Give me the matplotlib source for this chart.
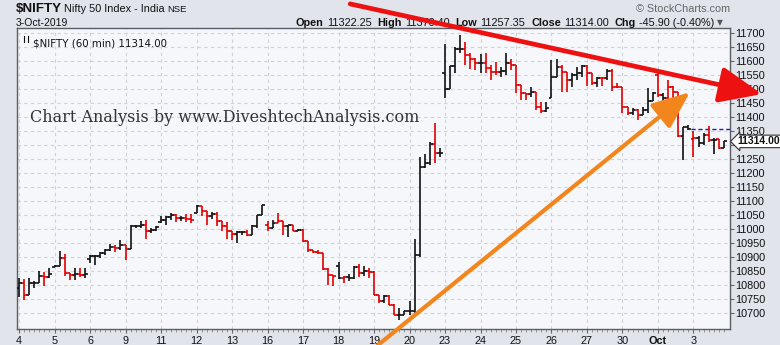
import matplotlib
matplotlib.use("Agg")
import matplotlib.pyplot as plt
import numpy as np
from matplotlib.patches import FancyArrowPatch, ArrowStyle
from matplotlib.lines import Line2D
import matplotlib.transforms as mtransforms

plt.rcParams['font.family'] = ['Liberation Sans', 'DejaVu Sans']

# ---------------- data ----------------
day_labels = ['4', '5', '6', '9', '11', '12', '13', '16', '17', '18', '19', '20',
              '23', '24', '25', '26', '27', '30', 'Oct', '3']
bars_per_day = 7

opens = [
    10790, 10810, 10767, 10808, 10810, 10832, 10828,
    10866, 10870, 10898, 10844, 10836, 10840, 10838,
    10895, 10904, 10905, 10915, 10927, 10936, 10933,
    10945, 10931, 11011, 11012, 11014, 10995, 10998,
    11025, 11032, 11043, 11052, 11040, 11042, 11038,
    11060, 11083, 11067, 11046, 11056, 11029, 11011,
    10993, 10983, 10989, 10992, 10981, 11011, 11052,
    11015, 11005, 11023, 11029, 11011, 11014, 10995,
    10999, 10957, 10927, 10919, 10915, 10858, 10836,
    10870, 10826, 10829, 10826, 10865, 10844, 10850,
    10848, 10767, 10745, 10761, 10731, 10695, 10695,
    10707, 10710, 10910, 11222, 11236, 11305, 11271,
    11560, 11500, 11583, 11644, 11644, 11623, 11607,
    11593, 11595, 11575, 11563, 11563, 11565, 11595,
    11587, 11515, 11486, 11483, 11492, 11438, 11423,
    11468, 11545, 11581, 11563, 11533, 11551, 11557,
    11583, 11557, 11521, 11539, 11539, 11567, 11510,
    11508, 11438, 11414, 11426, 11408, 11426, 11458,
    11550, 11480, 11468, 11510, 11492, 11333, 11364,
    11322, 11325, 11307, 11337, 11319, 11321, 11289,
]
highs = [
    10826, 10824, 10826, 10814, 10850, 10848, 10862,
    10871, 10921, 10912, 10844, 10862, 10862, 10862,
    10910, 10910, 10918, 10930, 10948, 10945, 10961,
    10945, 11014, 11014, 11029, 11035, 11005, 11011,
    11046, 11046, 11058, 11056, 11046, 11055, 11055,
    11086, 11084, 11067, 11061, 11061, 11029, 11026,
    10993, 10993, 10995, 10999, 11014, 11052, 11088,
    11029, 11035, 11058, 11029, 11017, 11017, 11002,
    11002, 10957, 10927, 10925, 10915, 10862, 10838,
    10884, 10832, 10840, 10868, 10876, 10870, 10862,
    10850, 10767, 10767, 10767, 10733, 10719, 10710,
    10743, 10964, 11260, 11269, 11313, 11379, 11289,
    11662, 11583, 11650, 11694, 11670, 11629, 11611,
    11626, 11631, 11587, 11599, 11579, 11631, 11607,
    11587, 11515, 11486, 11510, 11492, 11456, 11456,
    11605, 11607, 11587, 11563, 11557, 11581, 11587,
    11587, 11557, 11545, 11545, 11571, 11571, 11521,
    11508, 11438, 11432, 11429, 11438, 11504, 11492,
    11557, 11486, 11533, 11512, 11492, 11367, 11373,
    11352, 11333, 11343, 11370, 11325, 11321, 11317,
]
lows = [
    10760, 10749, 10765, 10790, 10808, 10796, 10826,
    10865, 10868, 10832, 10820, 10820, 10829, 10826,
    10880, 10871, 10898, 10910, 10921, 10918, 10927,
    10892, 10931, 11005, 11005, 10967, 10987, 10993,
    11023, 11017, 11035, 11025, 11029, 11025, 11023,
    11058, 11049, 11017, 11038, 11011, 10993, 10967,
    10963, 10951, 10980, 10975, 10979, 11005, 11052,
    10995, 11005, 11023, 10981, 10971, 10993, 10993,
    10955, 10919, 10915, 10912, 10856, 10802, 10799,
    10823, 10808, 10814, 10824, 10829, 10835, 10826,
    10764, 10737, 10737, 10729, 10693, 10677, 10695,
    10695, 10695, 10902, 11218, 11230, 11238, 11260,
    11468, 11500, 11560, 11629, 11587, 11571, 11569,
    11560, 11557, 11533, 11552, 11545, 11552, 11569,
    11486, 11462, 11462, 11474, 11426, 11414, 11420,
    11468, 11545, 11492, 11492, 11510, 11533, 11545,
    11512, 11515, 11510, 11512, 11533, 11495, 11504,
    11414, 11408, 11408, 11390, 11408, 11414, 11458,
    11474, 11432, 11465, 11465, 11331, 11248, 11355,
    11257, 11295, 11301, 11313, 11269, 11286, 11289,
]
closes = [
    10810, 10767, 10808, 10810, 10832, 10828, 10840,
    10870, 10898, 10844, 10836, 10840, 10838, 10840,
    10904, 10905, 10915, 10927, 10936, 10933, 10945,
    10931, 11011, 11012, 11014, 10995, 10998, 11007,
    11032, 11043, 11052, 11040, 11042, 11038, 11035,
    11083, 11067, 11046, 11056, 11029, 11011, 10993,
    10983, 10989, 10992, 10981, 11011, 11052, 11088,
    11005, 11023, 11029, 11011, 11014, 10995, 10999,
    10957, 10927, 10919, 10915, 10858, 10836, 10834,
    10826, 10829, 10826, 10865, 10844, 10850, 10848,
    10767, 10745, 10761, 10731, 10695, 10695, 10707,
    10710, 10910, 11222, 11236, 11305, 11271, 11274,
    11500, 11583, 11644, 11644, 11623, 11607, 11593,
    11595, 11575, 11563, 11563, 11565, 11595, 11587,
    11515, 11486, 11483, 11492, 11438, 11423, 11432,
    11545, 11581, 11563, 11533, 11551, 11557, 11583,
    11557, 11521, 11539, 11539, 11567, 11510, 11508,
    11438, 11414, 11426, 11408, 11426, 11458, 11488,
    11480, 11468, 11510, 11492, 11333, 11364, 11360,
    11325, 11307, 11337, 11319, 11320, 11289, 11314,
]
bar_colors = ("krkkkrk" "kkrrkrk" "kkkkkrk" "rkkkrkk" "kkkrkrr"
              "krrkrrr" "rkkrkkk" "rkrrkrk" "rrrrrrr" "krkkrkr"
              "rrkrrkk" "kkkkkrk" "kkkkrrr" "krrrkkr" "rrrkrrk"
              "kkrrkkk" "rrkrkrr" "rrkrkkk" "rkrrrkk" "rkkrkrk")
prev_close = 11359.90
last_close = 11314.00

# trend lines drawn by the analyst: (bar index, price)
red_trend_x = [65.3, 146.5]
red_trend_y = [11805, 11483]
orange_trend_x = [70.8, 132.3]
orange_trend_y = [10587, 11490]

header_values = {'Open': '11322.25', 'High': '11370.40', 'Low': '11257.35',
                 'Close': '11314.00', 'Chg': '-45.90 (-0.40%)'}

# ---------------- figure ----------------
W, H = 780, 345
fig = plt.figure(figsize=(W / 100, H / 100), dpi=100, facecolor='#e1e4eb')
ax = fig.add_axes([17 / W, 1 - 329 / H, (730 - 17) / W, (329 - 28) / H])
ax.set_facecolor('#f6f7fa')

n = len(closes)
x = np.arange(n)
col = ['#111111' if c == 'k' else '#e00000' for c in bar_colors]
ax.vlines(x, lows, highs, colors=col, lw=1.2, zorder=3)
ax.hlines(opens, x - 0.55, x, colors=col, lw=1.2, zorder=3)
ax.hlines(closes, x, x + 0.55, colors=col, lw=1.2, zorder=3)

ax.set_xlim(-0.4, 140.2)
ax.set_ylim(10644, 11719)

# previous close reference
last_day_start = (len(day_labels) - 1) * bars_per_day
ax.hlines(prev_close, last_day_start - 0.5, 140.2, colors='#1a1acc',
          linestyles=(0, (3, 2)), lw=1.0, zorder=2)

# grid / ticks
day_starts = np.arange(len(day_labels)) * bars_per_day
ax.set_xticks(day_starts)
ax.set_xticklabels(day_labels, fontsize=7.8, color='#111')
for lab in ax.get_xticklabels():
    if lab.get_text() == 'Oct':
        lab.set_fontweight('bold')
ax.set_xticks(x, minor=True)
ax.tick_params(axis='x', which='major', length=3, color='#666', pad=2)
ax.tick_params(axis='x', which='minor', length=2, color='#888')

ytick_vals = list(range(10700, 11701, 50))
ax.yaxis.tick_right()
ax.set_yticks(ytick_vals)
# the 11300 label is hidden behind the last-price marker in the original
ax.set_yticklabels(['' if abs(v - last_close) < 25 else str(v)
                    for v in ytick_vals], fontsize=7.8, color='#111')
ax.tick_params(axis='y', length=3, color='#666', pad=1)
ax.grid(True, ls=(0, (3, 3)), color='#cfd2d8', lw=0.8, zorder=0)
ax.set_axisbelow(True)
for s in ax.spines.values():
    s.set_color('#5a5d66')
    s.set_linewidth(1.0)

# current price label on the right axis
trans = mtransforms.blended_transform_factory(ax.transAxes, ax.transData)
ax.text(1.010, last_close, f'{last_close:.2f}', transform=trans, ha='left',
        va='center', fontsize=7.5, fontweight='bold', color='#111', zorder=6,
        bbox=dict(boxstyle='larrow,pad=0.12', fc='white', ec='#333', lw=0.8),
        clip_on=False)

# in-plot legend
ax.text(0.022, 0.965, '$NIFTY (60 min) 11314.00', transform=ax.transAxes,
        fontsize=7.4, family='DejaVu Sans', color='#111', va='top', ha='left')
for dx, y0, y1 in [(0, 0.952, 0.975), (0.006, 0.955, 0.972)]:
    ax.add_line(Line2D([0.010 + dx, 0.010 + dx], [y0, y1],
                       transform=ax.transAxes, color='#111', lw=0.8))

# watermark text
ax.text(0.018, 0.704, 'Chart Analysis by www.DiveshtechAnalysis.com',
        transform=ax.transAxes, fontsize=11.5, family='DejaVu Serif',
        color='#333', va='center', ha='left')

# ---------------- header ----------------
def ftext(px, py, s, **kw):
    return fig.text(px / W, 1 - py / H, s, **kw)

ftext(16, 12.5, '$NIFTY', fontsize=9.6, fontweight='bold', color='#111',
      va='baseline')
ftext(64, 12.5, 'Nifty 50 Index - India', fontsize=7.8, color='#111',
      va='baseline')
ftext(167, 12.5, 'NSE', fontsize=6.8, color='#111', va='baseline')
ftext(16, 25.5, '3-Oct-2019', fontsize=7.5, color='#111', va='baseline')
ftext(730, 11.5, '\u00a9 StockCharts.com', fontsize=7.8, color='#666',
      ha='right', va='baseline')

fig.canvas.draw()
renderer = fig.canvas.get_renderer()
px = 296
for k, v in header_values.items():
    t = ftext(px, 25.5, k, fontsize=7.8, fontweight='bold', color='#111',
              va='baseline')
    px = t.get_window_extent(renderer).x1 + 3
    t = ftext(px, 25.5, v, fontsize=7.8, color='#111', va='baseline')
    px = t.get_window_extent(renderer).x1 + 6
ftext(px - 3, 25, '\u25bc', fontsize=5.5, color='#555', va='baseline',
      family='DejaVu Sans')

# ---------------- trend arrows (on top of everything) ----------------
red_arrow = FancyArrowPatch((red_trend_x[0], red_trend_y[0]),
                            (red_trend_x[1], red_trend_y[1]),
                            transform=ax.transData,
                            arrowstyle=ArrowStyle('-|>', head_length=2.6,
                                                  head_width=1.1),
                            mutation_scale=10, color='#ee1111', lw=3.4,
                            shrinkA=0, shrinkB=0, zorder=10, clip_on=False)
orange_arrow = FancyArrowPatch((orange_trend_x[0], orange_trend_y[0]),
                               (orange_trend_x[1], orange_trend_y[1]),
                               transform=ax.transData,
                               arrowstyle=ArrowStyle('-|>', head_length=2.3,
                                                     head_width=0.95),
                               mutation_scale=10, color='#f2861c', lw=3.0,
                               shrinkA=0, shrinkB=0, zorder=10, clip_on=False)
fig.add_artist(red_arrow)
fig.add_artist(orange_arrow)

fig.savefig('out.png', dpi=100, facecolor=fig.get_facecolor())
